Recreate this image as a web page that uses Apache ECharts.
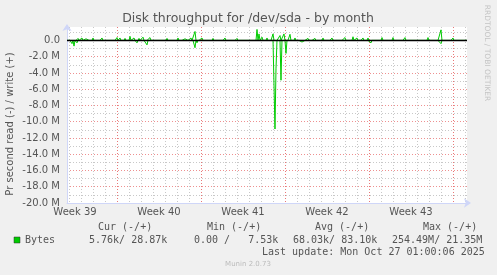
<!DOCTYPE html>
<html><head><meta charset="utf-8">
<script src="https://cdn.jsdelivr.net/npm/echarts@6/dist/echarts.min.js"></script>
<style>html,body{margin:0;padding:0;background:#F0F0F0;}#c{width:497px;height:275px;}</style>
</head><body><div id="c"></div>
<script>
// x unit: days since start of Week 39 (Mon 00:00); rrd step = 2 h
const XMIN = 2.8333, XMAX = 36.1667;
const weekLabels = ['Week 39', 'Week 40', 'Week 41', 'Week 42', 'Week 43'];
const weekMid = [3.5, 10.5, 17.5, 24.5, 31.5];
const weekStarts = [7, 14, 21, 28, 35];
const dayLines = [3,4,5,6,7,8,9,10,11,12,13,14,15,16,17,18,19,20,21,22,23,24,25,26,27,28,29,30,31,32,33,34,35,36];
const yMajor = [-20, -18, -16, -14, -12, -10, -8, -6, -4, -2, 0];
const yMinor = [-19, -17, -15, -13, -11, -9, -7, -5, -3, -1, 1];

// write (+) peaks, MB/s
const writeDays = [3.00,3.42,3.75,4.08,4.42,5.00,5.75,7.00,7.25,7.67,8.08,8.42,8.83,9.17,9.75,10.42,11.17,12.08,12.67,13.17,13.50,14.08,15.00,16.00,17.00,17.67,18.67,18.83,19.08,19.50,19.75,20.00,20.58,20.92,21.42,21.83,22.25,22.92,23.50,24.17,24.92,26.00,26.67,27.00,27.50,27.92,29.08,30.00,31.00,32.00,32.92,34.00,35.00,35.75];
const writeMB = [0.15,0.2,0.25,0.3,0.2,0.3,0.3,0.35,0.3,0.25,0.5,0.3,0.25,0.4,0.35,0.2,0.25,0.3,0.2,0.3,1.1,0.3,0.25,0.3,0.25,0.2,1.35,0.8,0.4,0.3,0.2,0.8,0.6,0.8,0.75,0.3,0.2,0.25,0.25,0.3,0.3,0.35,0.45,0.3,0.3,0.3,0.35,0.35,0.35,0.2,0.35,1.3,0.3,0.2];
// read (-) peaks, MB/s
const readDays = [3.25,3.42,3.67,3.92,8.67,9.50,13.50,13.67,19.42,20.17,20.25,20.67,21.08,22.42,27.33,28.17,34.00];
const readMB = [-0.4,-0.7,-0.3,-0.2,-0.3,-0.55,-0.9,-0.3,-0.2,-10.9,-3.5,-4.9,-1.6,-0.2,-0.2,-0.3,-0.4];

const legendHeaders = ['Cur (-/+)', 'Min (-/+)', 'Avg (-/+)', 'Max (-/+)'];
const legendValues = ['5.76k/ 28.87k', '0.00 /   7.53k', '68.03k/ 83.10k', '254.49M/ 21.35M'];
const seriesName = 'Bytes';
const lastUpdate = 'Last update: Mon Oct 27 01:00:06 2025';

const SPD = 12;
function build(days, vals) {
  const m = new Map();
  days.forEach((d, i) => m.set(Math.round(d * SPD), vals[i]));
  const out = [];
  for (let s = Math.ceil(XMIN * SPD); s <= Math.floor(XMAX * SPD); s++) {
    out.push([s / SPD, m.has(s) ? m.get(s) : 0]);
  }
  return out;
}

const AXIS = '#CFD6F8', FONT = '#555', GRID = '#C8C8C8', MGRID = '#EE9090', WGRID = '#E87878';
// one colour per day line: week starts (Mondays) in red
const dayColors = dayLines.map(d => weekStarts.indexOf(d) >= 0 ? WGRID : GRID);
const mono = '10px "DejaVu Sans Mono"';
const chart = echarts.init(document.getElementById('c'), null, {renderer: 'canvas'});
const hdrX = [98, 207, 315, 423];
const valX = [89, 194, 293, 392];
const graphic = [
  {type: 'text', x: 248, y: 19, style: {text: 'Disk throughput for /dev/sda - by month', font: '12.5px "DejaVu Sans"', fill: FONT, align: 'center', verticalAlign: 'middle'}},
  {type: 'text', x: 10, y: 124, rotation: Math.PI / 2, style: {text: 'Pr second read (-) / write (+)', font: '10px "DejaVu Sans"', fill: FONT, align: 'center', verticalAlign: 'middle'}},
  {type: 'text', x: 487, y: 53, rotation: -Math.PI / 2, style: {text: 'RRDTOOL / TOBI OETIKER', font: '7.5px "DejaVu Sans"', fill: '#C4C4C4', align: 'center', verticalAlign: 'middle'}},
  {type: 'rect', shape: {x: 14, y: 237, width: 6, height: 6}, style: {fill: '#00CC00', stroke: '#333', lineWidth: 0.5}},
  {type: 'text', x: 25, y: 240.5, style: {text: seriesName, font: mono, fill: FONT, align: 'left', verticalAlign: 'middle'}},
  {type: 'text', x: 262, y: 252, style: {text: lastUpdate, font: mono, fill: FONT, align: 'left', verticalAlign: 'middle'}},
  {type: 'text', x: 248, y: 264, style: {text: 'Munin 2.0.73', font: '7px "DejaVu Sans"', fill: '#BBBBBB', align: 'center', verticalAlign: 'middle'}}
];
legendHeaders.forEach((t, i) => graphic.push({type: 'text', x: hdrX[i], y: 227, style: {text: t, font: mono, fill: FONT, align: 'left', verticalAlign: 'middle'}}));
legendValues.forEach((t, i) => graphic.push({type: 'text', x: valX[i], y: 240.5, style: {text: t, font: mono, fill: FONT, align: 'left', verticalAlign: 'middle'}}));

const baseX = {type: 'value', position: 'bottom', min: XMIN, max: XMAX, gridIndex: 0, axisLine: {show: false}, axisTick: {show: false}, axisLabel: {show: false}, splitLine: {show: false}};
chart.setOption({
  animation: false,
  backgroundColor: '#F0F0F0',
  grid: {left: 67, right: 30, top: 27, bottom: 72, backgroundColor: '#FFFFFF', show: true, borderWidth: 0},
  graphic: graphic,
  xAxis: [
    Object.assign({}, baseX, {axisTick: {show: false, customValues: dayLines}, splitLine: {show: true, lineStyle: {color: dayColors, type: [1, 2], width: 1}}}),
    Object.assign({}, baseX, {
      axisLine: {show: true, onZero: false, lineStyle: {color: AXIS, width: 1}, symbol: ['none', 'arrow'], symbolSize: [7, 7], symbolOffset: [0, 4]},
      axisTick: {show: false},
      axisLabel: {show: true, customValues: weekMid, margin: 4, fontFamily: 'DejaVu Sans', fontSize: 10, color: FONT,
        formatter: v => weekLabels[weekMid.indexOf(v)] || ''}
    })
  ],
  yAxis: [
    {type: 'value', position: 'left', min: -20, max: 1.65, gridIndex: 0,
      axisLine: {show: true, onZero: false, lineStyle: {color: AXIS, width: 1}, symbol: ['none', 'arrow'], symbolSize: [7, 7], symbolOffset: [0, 3]},
      axisTick: {show: false, customValues: yMajor},
      axisLabel: {show: true, customValues: yMajor, margin: 7, fontFamily: 'DejaVu Sans', fontSize: 10, color: FONT,
        formatter: v => v === 0 ? '0.0' : v.toFixed(1) + ' M'},
      splitLine: {show: true, lineStyle: {color: MGRID, type: [1, 2], width: 1}}},
    {type: 'value', position: 'left', min: -20, max: 1.65, gridIndex: 0, axisLine: {show: false}, axisLabel: {show: false},
      axisTick: {show: false, customValues: yMinor},
      splitLine: {show: true, lineStyle: {color: GRID, type: [1, 2], width: 1}}}
  ],
  series: [
    {type: 'line', name: 'read', xAxisIndex: 1, yAxisIndex: 0, data: build(readDays, readMB), showSymbol: false,
      lineStyle: {color: '#00CC00', width: 1}, itemStyle: {color: '#00CC00'}, z: 3},
    {type: 'line', name: 'write', xAxisIndex: 1, yAxisIndex: 0, data: build(writeDays, writeMB), showSymbol: false,
      lineStyle: {color: '#00CC00', width: 1}, itemStyle: {color: '#00CC00'}, z: 4,
      markLine: {silent: true, symbol: ['none', 'none'], label: {show: false}, lineStyle: {color: '#000', width: 1.4, type: 'solid'}, data: [{yAxis: 0}]}}
  ]
});
</script></body></html>
